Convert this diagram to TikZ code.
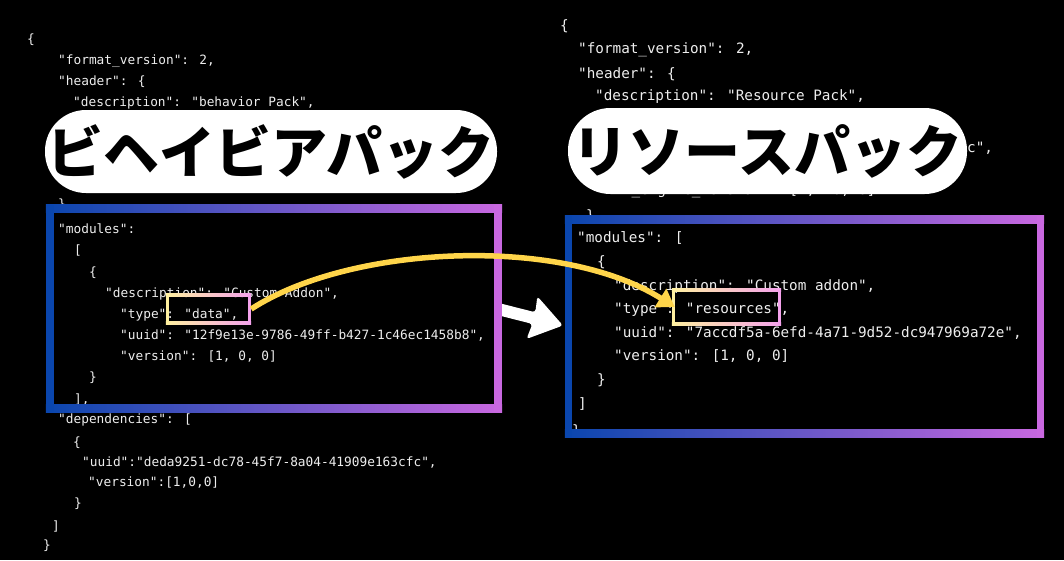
\documentclass[tikz,border=0pt]{standalone}
\usepackage{fontspec}
\newfontfamily\codefont{DejaVu Sans Mono}
\newfontfamily\jpfont{Noto Sans CJK JP}
\usetikzlibrary{calc,arrows.meta}
\definecolor{gblue}{HTML}{0A46AE}
\definecolor{gviolet}{HTML}{C968E0}
\definecolor{hly}{HTML}{FFF0A0}
\definecolor{hlp}{HTML}{F4A2EC}
\definecolor{arrowgold}{HTML}{FFD54A}
\definecolor{codegray}{HTML}{EEEEEE}
\newcommand\gradframe[4]{%
  \shade[left color=#3,right color=#4] (#1.north west) rectangle ([yshift=-#2pt]#1.north east);
  \shade[left color=#3,right color=#4] ([yshift=#2pt]#1.south west) rectangle (#1.south east);
  \fill[#3] (#1.north west) rectangle ([xshift=#2pt]#1.south west);
  \fill[#4] ([xshift=-#2pt]#1.north east) rectangle (#1.south east);
}
\begin{document}
\begin{tikzpicture}[x=1pt,y=-1pt,
  codeL/.style={anchor=base west, inner sep=0pt, text=codegray, font=\codefont\fontsize{12.8}{15}\selectfont},
  codeR/.style={anchor=base west, inner sep=0pt, text=codegray, font=\codefont\fontsize{14.3}{17}\selectfont},
  packtag/.style={fill=white, inner sep=0pt, text=black, font=\jpfont\bfseries\fontsize{56}{60}\selectfont},
  boxarea/.style={inner sep=0pt, minimum width=#1},
]
\useasboundingbox (0,0) rectangle (1064,560);
\fill[black] (0,0) rectangle (1064,560);

% ---------- left code ----------
\node[codeL] (l1)  at (27,43)    {\{};
\node[codeL] (l2)  at (58,64.5)  {"format\_version": 2,};
\node[codeL] (l3)  at (58,85.5)  {"header": \{};
\node[codeL] (l4)  at (73,106.5) {"description": "behavior Pack",};
\node[codeL] (l5)  at (58,208)   {\},};
\node[codeL] (l6)  at (58,233.5) {"modules":};
\node[codeL] (l7)  at (74,254.5) {[};
\node[codeL] (l8)  at (89,276)   {\{};
\node[codeL] (l9)  at (105,297)  {"description": "Custom Addon",};
\node[codeL] (l10) at (120,318.5){"type": "data",};
\node[codeL] (l11) at (120,339)  {"uuid": "12f9e13e-9786-49ff-b427-1c46ec1458b8",};
\node[codeL] (l12) at (120,360)  {"version": [1, 0, 0]};
\node[codeL] (l13) at (89,381.5) {\}};
\node[codeL] (l14) at (74,403)   {],};
\node[codeL] (l15) at (58,423)   {"dependencies": [};
\node[codeL] (l16) at (73,446)   {\{};
\node[codeL] (l17) at (82,466.5) {"uuid":"deda9251-dc78-45f7-8a04-41909e163cfc",};
\node[codeL] (l18) at (88,486.5) {"version":[1,0,0]};
\node[codeL] (l19) at (74,507.5) {\}};
\node[codeL] (l20) at (52,530)   {]};
\node[codeL] (l21) at (43,549.5) {\}};

% ---------- right code ----------
\node[codeR] (r1)  at (560,30)   {\{};
\node[codeR] (r2)  at (578,53)   {"format\_version": 2,};
\node[codeR] (r3)  at (578,78)   {"header": \{};
\node[codeR] (r4)  at (595,100)  {"description": "Resource Pack",};
\node[codeR] (r5)  at (967,152)  {c",};
\node[codeR] (r6)  at (597,194)  {"min\_engine\_version": [1, 16, 0]};
\node[codeR] (r7)  at (586,220)  {\},};
\node[codeR] (r8)  at (577,242)  {"modules": [};
\node[codeR] (r9)  at (597,266)  {\{};
\node[codeR] (r10) at (614,290)  {"description": "Custom addon",};
\node[codeR] (r11) at (614,313)  {"type": "resources",};
\node[codeR] (r12) at (614,337)  {"uuid": "7accdf5a-6efd-4a71-9d52-dc947969a72e",};
\node[codeR] (r13) at (614,360)  {"version": [1, 0, 0]};
\node[codeR] (r14) at (597,384)  {\}};
\node[codeR] (r15) at (578,408)  {]};
\node[codeR] (r16) at (572,435)  {\}};

% ---------- white arrow (under frames) ----------
\coordinate (waS) at (498,309);
\begin{scope}[shift={(waS)}, rotate=-14.25]
  \fill[white, rounded corners=3pt] (0,-6) -- (37,-6) -- (35,-22) -- (67,0) -- (35,22) -- (37,6) -- (0,6) -- cycle;
\end{scope}

% ---------- frames ----------
\node[boxarea=456pt, minimum height=207pt] (lframe) at (274,308.5) {};
\node[boxarea=479pt, minimum height=221pt] (rframe) at (804.5,326.5) {};
\gradframe{lframe}{8}{gblue}{gviolet}
\gradframe{rframe}{7.5}{gblue}{gviolet}

\node[boxarea=85pt, minimum height=30pt] (dataBox) at (208.5,309) {};
\node[boxarea=109pt, minimum height=36pt] (resBox) at (726.5,307) {};
\gradframe{dataBox}{3}{hly}{hlp}
\gradframe{resBox}{3}{hly}{hlp}

% ---------- labels ----------
\node[packtag, minimum width=452pt, minimum height=83pt, rounded corners=41pt] (bpack) at (271,151.5) {ビヘイビアパック};
\node[packtag, minimum width=399pt, minimum height=86pt, rounded corners=42.5pt] (rpack) at (767.5,151) {リソースパック};

% ---------- yellow arrow ----------
\draw[arrowgold, line width=5.5pt, -{Triangle[length=17pt,width=21pt]}]
  (dataBox.east) .. controls (350,245) and (560,235) .. ([xshift=3pt]resBox.west);
\end{tikzpicture}
\end{document}
